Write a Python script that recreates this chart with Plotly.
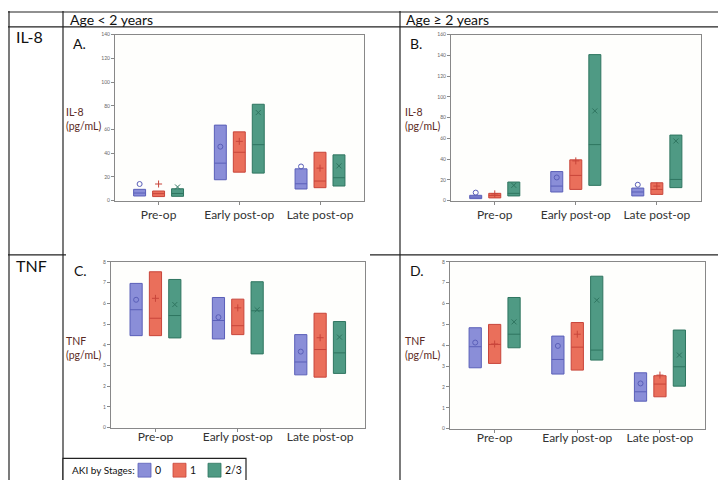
import plotly.graph_objects as go

W, H = 726, 480

categories = ["Pre-op", "Early post-op", "Late post-op"]
stages = ["0", "1", "2/3"]

# IL-8, Age < 2 years (panel A)
a_q1 = {"0": [3.9, 17.6, 9.8], "1": [3.4, 24.0, 10.9], "2/3": [3.6, 23.2, 12.3]}
a_med = {"0": [6.4, 31.6, 14.2], "1": [5.9, 40.8, 16.5], "2/3": [6.0, 47.2, 19.3]}
a_q3 = {"0": [9.5, 63.7, 26.8], "1": [8.1, 58.0, 40.8], "2/3": [10.0, 81.3, 38.6]}
a_mean = {"0": [14.0, 45.5, 28.8], "1": [14.0, 50.0, 27.4], "2/3": [11.5, 74.3, 29.3]}

# IL-8, Age >= 2 years (panel B)
b_q1 = {"0": [1.9, 8.3, 4.5], "1": [2.6, 10.8, 6.0], "2/3": [4.5, 14.7, 12.5]}
b_med = {"0": [3.4, 14.0, 8.3], "1": [5.0, 24.3, 10.8], "2/3": [7.0, 54.0, 20.4]}
b_q3 = {"0": [5.1, 28.0, 12.1], "1": [7.0, 39.3, 17.2], "2/3": [17.9, 140.8, 63.2]}
b_mean = {"0": [7.7, 22.3, 15.3], "1": [6.5, 38.3, 14.0], "2/3": [14.7, 86.5, 57.5]}

# TNF, Age < 2 years (panel C)
c_q1 = {"0": [4.44, 4.28, 2.55], "1": [4.44, 4.49, 2.44], "2/3": [4.33, 3.56, 2.62]}
c_med = {"0": [5.69, 5.17, 3.17], "1": [5.28, 4.92, 3.77], "2/3": [5.41, 5.64, 3.61]}
c_q3 = {"0": [6.96, 6.28, 4.49], "1": [7.52, 6.20, 5.52], "2/3": [7.15, 7.04, 5.12]}
c_mean = {"0": [6.17, 5.33, 3.67], "1": [6.24, 5.78, 4.34], "2/3": [5.94, 5.69, 4.37]}

# TNF, Age >= 2 years (panel D)
d_q1 = {"0": [2.92, 2.62, 1.32], "1": [3.13, 2.81, 1.53], "2/3": [3.88, 3.29, 2.04]}
d_med = {"0": [3.93, 3.32, 1.77], "1": [4.04, 3.91, 2.14], "2/3": [4.53, 3.77, 2.97]}
d_q3 = {"0": [4.84, 4.44, 2.68], "1": [5.00, 5.09, 2.54], "2/3": [6.29, 7.31, 4.73]}
d_mean = {"0": [4.13, 3.97, 2.17], "1": [4.06, 4.53, 2.57], "2/3": [5.12, 6.16, 3.53]}

y_ticks_a = [0, 20, 40, 60, 80, 100, 120, 140]
y_ticks_b = [0, 20, 40, 60, 80, 100, 120, 140, 160]
y_ticks_tnf = [0, 1, 2, 3, 4, 5, 6, 7, 8]

fill = {"0": "#8a8ed8", "1": "#ea6f5b", "2/3": "#4f9a84"}
edge = {"0": "#5a5fb8", "1": "#c8453a", "2/3": "#2f7560"}
symbol = {"0": "circle-open", "1": "cross-thin-open", "2/3": "x-thin-open"}
offset = {"0": -0.235, "1": 0.0, "2/3": 0.235}
BOXW = 0.148

def px(x):
    return x / W

def py(y):
    return 1 - y / H

fig = go.Figure()

panels = [
    ("x", "y", a_q1, a_med, a_q3, a_mean),
    ("x2", "y2", b_q1, b_med, b_q3, b_mean),
    ("x3", "y3", c_q1, c_med, c_q3, c_mean),
    ("x4", "y4", d_q1, d_med, d_q3, d_mean),
]

for xa, ya, q1, med, q3, mean in panels:
    for s in stages:
        xs = [i + offset[s] for i in range(len(categories))]
        fig.add_trace(go.Box(
            x=xs, q1=q1[s], median=med[s], q3=q3[s],
            lowerfence=q1[s], upperfence=q3[s],
            width=BOXW, whiskerwidth=0,
            fillcolor=fill[s], line=dict(color=edge[s], width=1),
            xaxis=xa, yaxis=ya, showlegend=False, hoverinfo="skip",
        ))
        fig.add_trace(go.Scatter(
            x=xs, y=mean[s], mode="markers",
            marker=dict(symbol=symbol[s], size=5, color=edge[s],
                        line=dict(color=edge[s], width=1)),
            xaxis=xa, yaxis=ya, showlegend=False, hoverinfo="skip",
        ))

tickfont = dict(family="Lato", size=5, color="#666")
catfont = dict(family="Lato", size=12, color="#333")

def xaxis(domain, anchor, standoff):
    return dict(domain=domain, anchor=anchor, range=[-0.54, 2.545],
                tickvals=[0, 1, 2], ticktext=categories, tickfont=catfont,
                ticks="outside", ticklen=3, tickcolor="#888",
                ticklabelstandoff=standoff,
                showline=True, linecolor="#888", linewidth=1, mirror=True,
                showgrid=False, zeroline=False, fixedrange=True)

def yaxis(domain, anchor, rng, tv):
    return dict(domain=domain, anchor=anchor, range=rng, tickvals=tv,
                tickfont=tickfont, ticks="outside", ticklen=3, tickcolor="#888",
                showline=True, linecolor="#888", linewidth=1, mirror=True,
                showgrid=False, zeroline=False, fixedrange=True)

fig.update_layout(
    width=W, height=H,
    margin=dict(l=0, r=0, t=0, b=0),
    paper_bgcolor="white", plot_bgcolor="#fefefc",
    xaxis=xaxis([px(107), px(356)], "y", 0),
    yaxis=yaxis([py(192), py(24)], "x", [0, 140], y_ticks_a),
    xaxis2=xaxis([px(443), px(693)], "y2", 0),
    yaxis2=yaxis([py(192), py(24)], "x2", [0, 160], y_ticks_b),
    xaxis3=xaxis([px(103), px(357)], "y3", -5),
    yaxis3=yaxis([py(422), py(254)], "x3", [0, 8], y_ticks_tnf),
    xaxis4=xaxis([px(442), px(697)], "y4", -5),
    yaxis4=yaxis([py(423), py(254)], "x4", [0, 8], y_ticks_tnf),
)

shapes = []
def line(x0, y0, x1, y1, w=1.2, c="#222"):
    shapes.append(dict(type="line", xref="paper", yref="paper",
                       x0=px(x0), y0=py(y0), x1=px(x1), y1=py(y1),
                       line=dict(color=c, width=w)))

# table grid
line(0, 1, 724, 1)
line(0, 16, 724, 16)
line(1, 0, 1, 478)
line(55, 0, 55, 478)
line(392, 0, 392, 478)
line(724, 0, 724, 478)
line(0, 478, 724, 478)
line(0, 247, 58, 247)
line(362, 247, 724, 247)

# legend box
shapes.append(dict(type="rect", xref="paper", yref="paper",
                   x0=px(55), y0=py(478), x1=px(238), y1=py(453),
                   line=dict(color="#222", width=1.2), fillcolor="white"))
legend_x = {"0": 130, "1": 165, "2/3": 200}
for s in stages:
    shapes.append(dict(type="rect", xref="paper", yref="paper",
                       x0=px(legend_x[s]), y0=py(472), x1=px(legend_x[s] + 13), y1=py(458),
                       line=dict(color=edge[s], width=0.8), fillcolor=fill[s]))
fig.update_layout(shapes=shapes)

ann = []
def text(x, y, t, size, color="#111", xanchor="left", yanchor="middle", align="left"):
    ann.append(dict(xref="paper", yref="paper", x=px(x), y=py(y), text=t,
                    showarrow=False, xanchor=xanchor, yanchor=yanchor, align=align,
                    font=dict(family="Lato", size=size, color=color)))

text(60, 9, "Age < 2 years", 14)
text(396, 9, "Age \u2265 2 years", 14)
text(6, 26, "IL-8", 16)
text(6, 258, "TNF", 16)
text(63, 33, "A.", 14)
text(400, 33, "B.", 14)
text(64, 263, "C.", 14)
text(400, 263, "D.", 14)
ylab_col = "#5c2a24"
text(56, 109, "IL-8<br>(pg/mL)", 10.5, ylab_col)
text(395, 109, "IL-8<br>(pg/mL)", 10.5, ylab_col)
text(56, 341, "TNF<br>(pg/mL)", 10.5, ylab_col)
text(395, 341, "TNF<br>(pg/mL)", 10.5, ylab_col)

text(62, 465, "AKI by Stages:", 10)
for s in stages:
    text(legend_x[s] + 15, 465, s, 10.5)

fig.update_layout(annotations=ann)

fig.write_html("out.html")
